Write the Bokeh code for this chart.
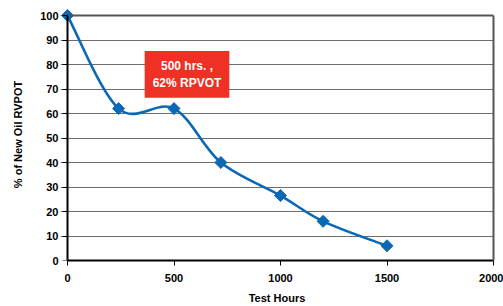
import numpy as np
from bokeh.plotting import figure
from bokeh.models import Label, FixedTicker, Range1d, LinearAxis
from bokeh.embed import file_html
from bokeh.resources import INLINE

hours = [0, 240, 500, 720, 1000, 1200, 1500]
rvpot = [100, 62, 62, 40, 26.5, 16, 6]
x_ticks = [0, 500, 1000, 1500, 2000]
y_ticks = list(range(0, 101, 10))

FONT = "Liberation Sans"
BLUE = "#0a68b4"
X_MAX, Y_MAX = 2000, 100
X_PAD, Y_PAD = 33, 2.86   # room so the corner marker is not clipped

p = figure(width=503, height=306, output_backend="svg", toolbar_location=None,
           x_range=Range1d(-X_PAD, X_MAX), y_range=Range1d(0, Y_MAX + Y_PAD),
           min_border_left=60, min_border_right=10, min_border_top=8, min_border_bottom=46)

# smoothed line (Catmull-Rom -> cubic Bezier, like a spreadsheet smoothed line)
P = np.column_stack([hours, rvpot]).astype(float)
Pe = np.vstack([P[0], P, P[-1]])
x0, y0, x1, y1, cx0, cy0, cx1, cy1 = ([] for _ in range(8))
for i in range(len(P) - 1):
    a, b, c, d = Pe[i], Pe[i + 1], Pe[i + 2], Pe[i + 3]
    c1 = b + (c - a) / 6.0
    c2 = c - (d - b) / 6.0
    x0.append(b[0]); y0.append(b[1]); x1.append(c[0]); y1.append(c[1])
    cx0.append(c1[0]); cy0.append(c1[1]); cx1.append(c2[0]); cy1.append(c2[1])
p.bezier(x0=x0, y0=y0, x1=x1, y1=y1, cx0=cx0, cy0=cy0, cx1=cx1, cy1=cy1,
         line_color=BLUE, line_width=2.6)
p.scatter(hours, rvpot, marker="square", angle=np.pi / 4, size=8.5, color=BLUE)

# axes: main axes give labels
for ax in (p.xaxis[0], p.yaxis[0]):
    ax.axis_line_color = "black"
    ax.axis_line_width = 2
    ax.major_tick_line_color = "black"
    ax.major_tick_line_width = 1
    ax.major_tick_in = 0
    ax.minor_tick_line_color = None
    ax.major_label_text_font = FONT
    ax.major_label_text_font_style = "bold"
    ax.major_label_text_font_size = "11px"
    ax.major_label_text_color = "black"
    ax.axis_label_text_font = FONT
    ax.axis_label_text_font_style = "bold"
    ax.axis_label_text_font_size = "11px"
    ax.axis_label_text_color = "black"
p.xaxis.ticker = FixedTicker(ticks=x_ticks)
p.yaxis.ticker = FixedTicker(ticks=y_ticks)
p.xaxis.bounds = (0, X_MAX)
p.yaxis.axis_line_color = None
p.yaxis.major_tick_line_color = None
p.yaxis.major_tick_out = 0
p.xaxis.major_tick_out = 5
p.xaxis.major_label_standoff = 8
p.yaxis.major_label_standoff = 2
p.xaxis.axis_label = "Test Hours"
p.yaxis.axis_label = "% of New Oil RVPOT"
p.xaxis.axis_label_standoff = 7
p.yaxis.axis_label_standoff = 13

# left axis line + ticks drawn at x = 0 (ticks as minor ticks, so no labels)
yline = LinearAxis(fixed_location=0, bounds=(0, Y_MAX), axis_line_color="black",
                   axis_line_width=2, major_tick_line_color=None,
                   minor_tick_line_color="black", minor_tick_out=5, minor_tick_in=0,
                   minor_tick_line_width=1,
                   ticker=FixedTicker(ticks=[], minor_ticks=y_ticks))
p.add_layout(yline, "left")

# top and right borders of the plot box
top = LinearAxis(fixed_location=Y_MAX, bounds=(0, X_MAX), axis_line_color="#555555",
                 axis_line_width=2, major_tick_line_color=None, minor_tick_line_color=None,
                 ticker=FixedTicker(ticks=[]))
right = LinearAxis(bounds=(0, Y_MAX), axis_line_color="#555555", axis_line_width=2,
                   major_tick_line_color=None, minor_tick_line_color=None,
                   ticker=FixedTicker(ticks=[]))
p.add_layout(top, "above")
p.add_layout(right, "right")

p.xgrid.grid_line_color = None
p.ygrid.ticker = FixedTicker(ticks=y_ticks)
p.ygrid.grid_line_color = "#6e6e6e"
p.ygrid.grid_line_width = 1
p.outline_line_color = None
p.background_fill_color = "white"
p.border_fill_color = "white"

p.add_layout(Label(x=561, y=76, text="500 hrs. ,\n62% RPVOT", text_align="center",
                   text_baseline="middle", text_font=FONT, text_font_style="bold",
                   text_font_size="12px", text_color="white",
                   background_fill_color="#ee3124", padding=8))

open("out.html", "w").write(file_html(p, INLINE))
